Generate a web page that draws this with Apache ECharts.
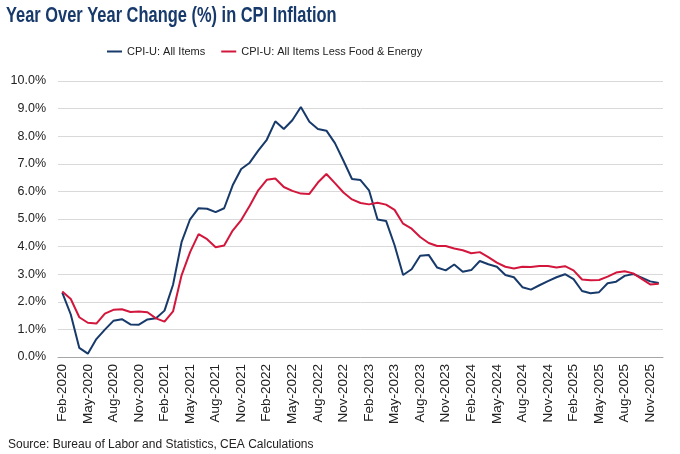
<!DOCTYPE html>
<html>
<head>
<meta charset="utf-8">
<script src="https://cdn.jsdelivr.net/npm/echarts@6/dist/echarts.min.js"></script>
<style>
  html, body { margin: 0; padding: 0; background: #fff; }
  #chart { width: 680px; height: 454px; }
</style>
</head>
<body>
<div id="chart"></div>
<script>
// monthly, Feb-2020 .. Dec-2025 (Oct-2025 not published)
var months = ['Jan', 'Feb', 'Mar', 'Apr', 'May', 'Jun', 'Jul', 'Aug', 'Sep', 'Oct', 'Nov', 'Dec'];
var categories = [];
for (var y = 2020; y <= 2025; y++) {
    for (var m = 0; m < 12; m++) {
        if (y === 2020 && m === 0) continue;
        categories.push(months[m] + '-' + y);
    }
}

var allItems = [
    2.33, 1.54, 0.33, 0.12, 0.65, 0.99, 1.31, 1.37, 1.18, 1.17, 1.36,
    1.40, 1.68, 2.62, 4.16, 4.99, 5.39, 5.37, 5.25, 5.39, 6.22, 6.81, 7.04,
    7.48, 7.87, 8.54, 8.26, 8.58, 9.06, 8.52, 8.26, 8.20, 7.75, 7.11, 6.45,
    6.41, 6.04, 4.98, 4.93, 4.05, 2.97, 3.18, 3.67, 3.70, 3.24, 3.14, 3.35,
    3.09, 3.15, 3.48, 3.36, 3.27, 2.97, 2.89, 2.53, 2.44, 2.60, 2.75, 2.89,
    3.00, 2.82, 2.39, 2.31, 2.35, 2.67, 2.73, 2.94, 3.01, null, 2.74, 2.68
];

var lessFoodEnergy = [
    2.37, 2.10, 1.44, 1.24, 1.21, 1.57, 1.71, 1.73, 1.63, 1.65, 1.62,
    1.40, 1.28, 1.65, 2.96, 3.80, 4.45, 4.27, 3.98, 4.04, 4.58, 4.96, 5.48,
    6.04, 6.42, 6.47, 6.16, 6.02, 5.92, 5.91, 6.32, 6.63, 6.30, 5.96, 5.71,
    5.58, 5.53, 5.59, 5.52, 5.33, 4.83, 4.65, 4.35, 4.13, 4.02, 4.02, 3.93,
    3.87, 3.76, 3.80, 3.62, 3.42, 3.27, 3.21, 3.27, 3.26, 3.30, 3.30, 3.24,
    3.29, 3.14, 2.81, 2.78, 2.79, 2.91, 3.06, 3.11, 3.03, null, 2.63, 2.65
];

var navy = '#173A6B';
var red = '#D2163C';
var font = 'Liberation Sans, Arial, sans-serif';

var chart = echarts.init(document.getElementById('chart'));
chart.setOption({
    animation: false,
    textStyle: { fontFamily: font },
    // title is narrow in the original, squeeze it horizontally
    graphic: [{
        type: 'text',
        x: 6,
        y: 16,
        scaleX: 0.747,
        style: {
            text: 'Year Over Year Change (%) in CPI Inflation',
            font: 'bold 22px ' + font,
            fill: navy,
            verticalAlign: 'middle'
        }
    }],
    title: {
        text: 'Source: Bureau of Labor and Statistics, CEA Calculations',
        left: 3,
        top: 434,
        textStyle: { fontWeight: 'normal', fontSize: 12, color: '#222' }
    },
    legend: {
        left: 107,
        top: 46,
        padding: 0,
        icon: 'rect',
        itemWidth: 15,
        itemHeight: 2,
        itemGap: 16,
        textStyle: { fontSize: 11, color: '#222' }
    },
    grid: { left: 58, right: 17, top: 81, bottom: 97 },
    xAxis: {
        type: 'category',
        data: categories,
        boundaryGap: true,
        axisLine: { lineStyle: { color: '#A6A6A6' } },
        axisTick: { interval: 2, length: 5, lineStyle: { color: '#A6A6A6' } },
        axisLabel: { interval: 2, rotate: 90, fontSize: 13.5, color: '#222', margin: 7 }
    },
    yAxis: {
        type: 'value',
        min: 0,
        max: 10,
        interval: 1,
        axisLine: { show: false },
        axisTick: { show: false },
        axisLabel: {
            fontSize: 12.5,
            color: '#222',
            margin: 12,
            formatter: function (v) { return v.toFixed(1) + '%'; }
        },
        splitLine: { lineStyle: { color: '#D9D9D9', width: 1 } }
    },
    series: [{
        name: 'CPI-U: All Items',
        type: 'line',
        data: allItems,
        connectNulls: true,
        showSymbol: false,
        lineStyle: { color: navy, width: 2 },
        itemStyle: { color: navy }
    }, {
        name: 'CPI-U: All Items Less Food & Energy',
        type: 'line',
        data: lessFoodEnergy,
        connectNulls: true,
        showSymbol: false,
        lineStyle: { color: red, width: 2 },
        itemStyle: { color: red }
    }]
});
</script>
</body>
</html>
